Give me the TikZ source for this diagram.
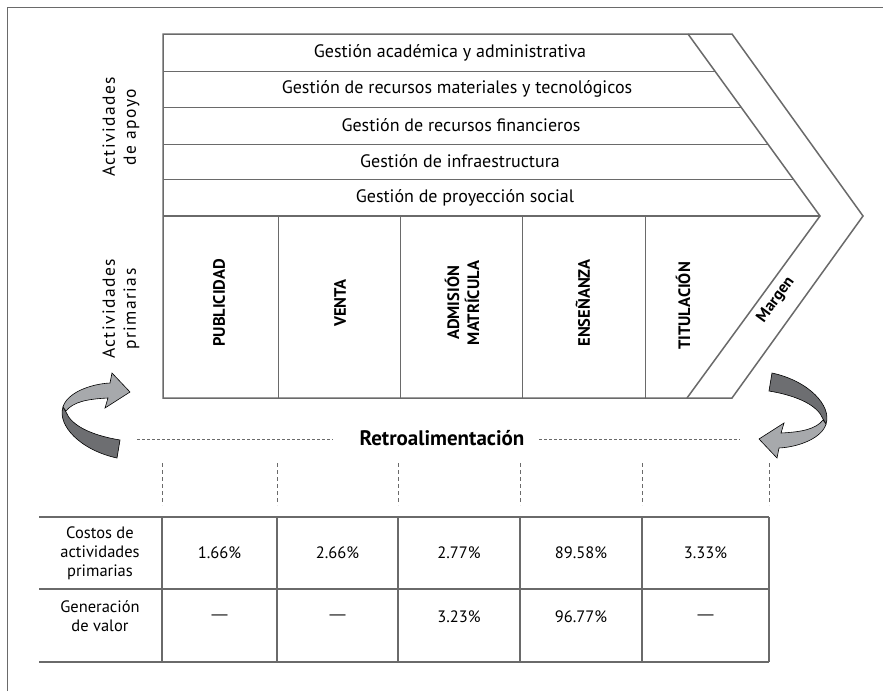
\documentclass[tikz,border=0pt]{standalone}
\usepackage{fontspec}
\setmainfont{PT Sans}
\newfontfamily\spacedfont[LetterSpace=8]{PT Sans}
\newfontfamily\dashfont{Liberation Sans}
\usetikzlibrary{calc}

\definecolor{linegray}{HTML}{6A6A6A}
\definecolor{darkband}{HTML}{6D6E71}
\definecolor{lightband}{HTML}{A7A9AC}

\tikzset{
  frameline/.style={draw=linegray, line width=1pt},
  chainedge/.style={draw=linegray, line width=1.5pt, line join=miter},
  chainline/.style={draw=linegray, line width=1pt},
  tableline/.style={draw=linegray, line width=1.1pt},
  guidedash/.style={draw=linegray, line width=0.7pt, dash pattern=on 3pt off 2pt},
  rowtext/.style={font=\fontsize{18}{20}\selectfont, inner sep=0pt},
  coltext/.style={font=\bfseries\fontsize{16.5}{20}\selectfont, rotate=90, align=center, inner sep=0pt},
  sidetext/.style={font=\spacedfont\fontsize{17.5}{21}\selectfont, rotate=90, align=center, inner sep=0pt},
  celltext/.style={font=\fontsize{16.5}{19}\selectfont, align=center, inner sep=0pt},
  dashcell/.style={font=\dashfont\fontsize{16}{19}\selectfont, inner sep=0pt},
  loop arrow/.pic={
    % back face of the ribbon
    \filldraw[fill=darkband, draw=black, line width=0.6pt]
      (-32,-8) .. controls (-38,10) and (-15,35) .. (22,43)
      -- (25,25) .. controls (-5,20) and (-24,10) .. (-29,-3) -- cycle;
    % front face ending in the arrow head
    \filldraw[fill=lightband, draw=black, line width=0.6pt]
      (-29,-4) .. controls (-22,-13) and (-8,-16) .. (13,-17)
      -- (10,-7) -- (35,-23) -- (17,-42) -- (15,-32)
      .. controls (-5,-31) and (-28,-22) .. (-32,-8) -- cycle;
  }
}

\begin{document}
\begin{tikzpicture}[x=1pt, y=-1pt]
\useasboundingbox (0,0) rectangle (883,691);
\fill[white] (0,0) rectangle (883,691);

% page frame
\draw[frameline] (7,691) -- (7,7) -- (883,7);

% value chain outline and margin band
\draw[chainedge] (163,34) -- (732,34) -- (863,216) -- (732,398) -- (163,398) -- cycle;
\draw[chainedge] (688,34) -- (820,216) -- (687,398);

% support activity rows
\draw[chainline] (163,71) -- (714.8,71);
\draw[chainline] (163,107) -- (740.9,107);
\draw[chainline] (163,144) -- (767.8,144);
\draw[chainline] (163,179) -- (793.1,179);
\draw[chainedge] (163,216) -- (820,216);

% primary activity columns
\foreach \cx in {278,400,522,645}
  \draw[chainline] (\cx,216) -- (\cx,398);

\node[rowtext] (r1) at (450,52.5) {Gestión académica y administrativa};
\node[rowtext] (r2) at (457,89) {Gestión de recursos materiales y tecnológicos};
\node[rowtext] (r3) at (461,125.5) {Gestión de recursos financieros};
\node[rowtext] (r4) at (460,161.5) {Gestión de infraestructura};
\node[rowtext] (r5) at (465,197.5) {Gestión de proyección social};

\node[coltext] (c1) at (219,303) {PUBLICIDAD};
\node[coltext] (c2) at (340,303) {VENTA};
\node[coltext] (c3) at (462,303) {ADMISIÓN\\MATRÍCULA};
\node[coltext] (c4) at (583,303) {ENSEÑANZA};
\node[coltext] (c5) at (683,306) {TITULACIÓN};
\node[font=\bfseries\fontsize{16}{18}\selectfont, rotate=54, inner sep=0pt] (mg) at (776,300) {Margen};

\node[sidetext] (s1) at (121,127) {Actividades\\de apoyo};
\node[sidetext] (s2) at (121,309) {Actividades\\primarias};

% feedback loop
\pic at (95,415) {loop arrow};
\pic[rotate=180] at (794,416) {loop arrow};
\node[font=\bfseries\fontsize{21}{23}\selectfont, inner sep=0pt] (fb) at (442,438) {Retroalimentación};
\coordinate (fbl) at (137,439);
\coordinate (fbr) at (740,439);
\draw[guidedash] (fbl) -- (333,439);
\draw[guidedash] (539,439) -- (fbr);

% guides from the chain down to the table
\foreach \cx in {162,277,398,520,642,769}
  \draw[guidedash, dash pattern=on 4pt off 3pt] (\cx,463) -- (\cx,505);

% cost table
\foreach \ry in {517,589,662}
  \draw[tableline] (39,\ry) -- (769,\ry);
\foreach \cx in {162,277,398,520,642,769}
  \draw[tableline] (\cx,517) -- (\cx,662);

\node[celltext] (h1) at (100,553) {Costos de\\actividades\\primarias};
\node[celltext] (h2) at (100,616) {Generación\\de valor};
\node[celltext] (a1) at (219.5,553) {1.66\%};
\node[celltext] (a2) at (337.5,553) {2.66\%};
\node[celltext] (a3) at (459,553) {2.77\%};
\node[celltext] (a4) at (581,553) {89.58\%};
\node[celltext] (a5) at (705.5,553) {3.33\%};
\node[dashcell] (b1) at (219.5,617) {—};
\node[dashcell] (b2) at (337.5,617) {—};
\node[celltext] (b3) at (459,617) {3.23\%};
\node[celltext] (b4) at (581,617) {96.77\%};
\node[dashcell] (b5) at (705.5,617) {—};
\end{tikzpicture}
\end{document}
